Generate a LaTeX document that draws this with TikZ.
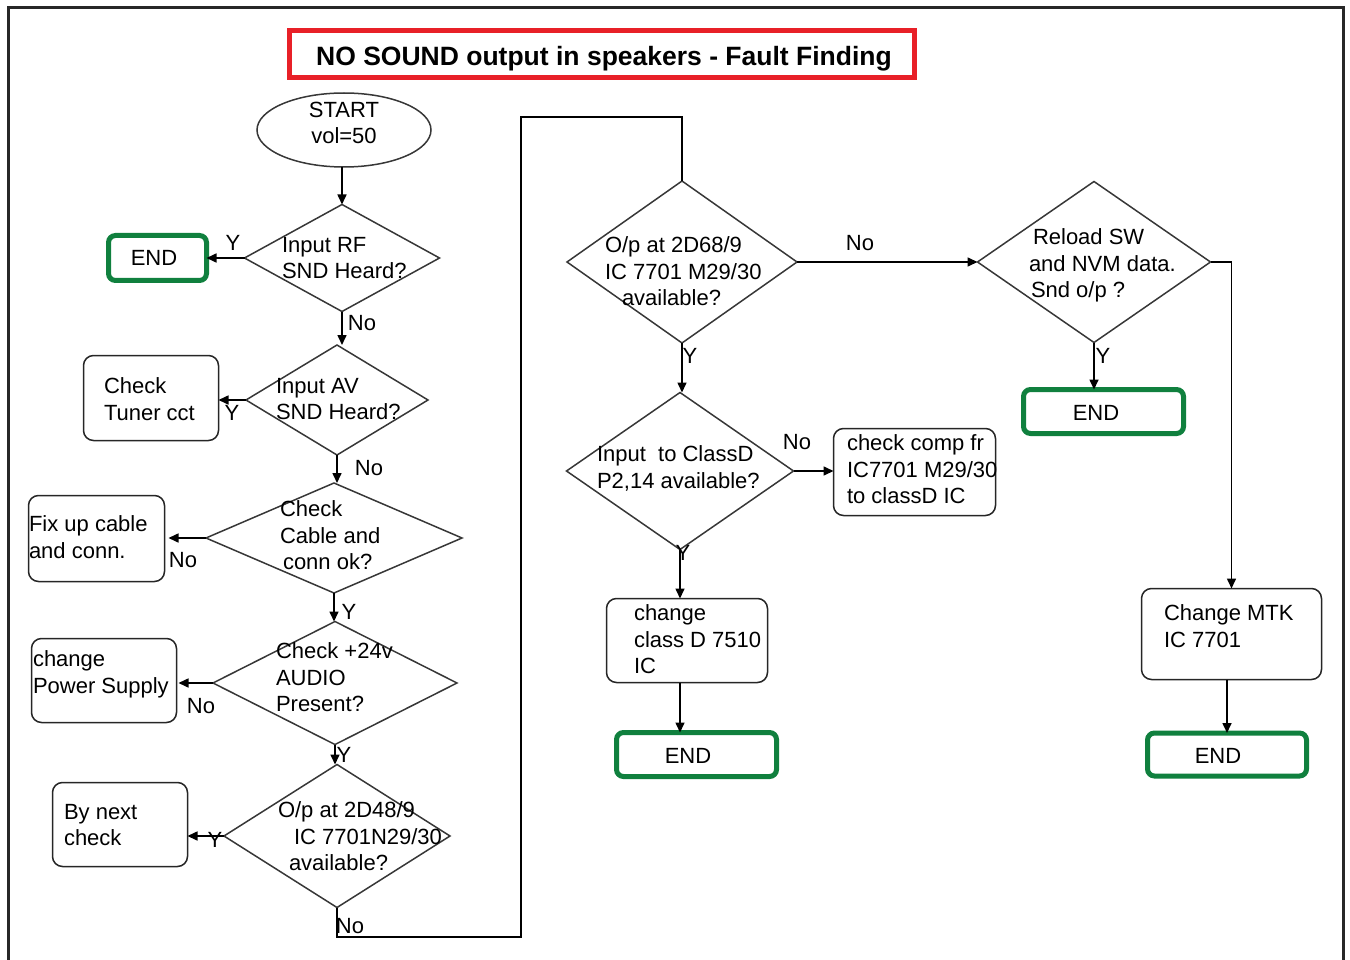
\documentclass[tikz,border=0pt]{standalone}
\usepackage{fontspec}
\setmainfont{Liberation Sans}
\usetikzlibrary{shapes.geometric,arrows.meta}
\definecolor{endgreen}{RGB}{16,128,62}
\definecolor{titlered}{RGB}{232,32,40}
\definecolor{shapegray}{RGB}{55,55,55}
\definecolor{framegray}{RGB}{40,40,40}
\begin{document}
\begin{tikzpicture}[x=1pt,y=-1pt,
  every node/.style={font=\fontsize{22}{26.5}\selectfont, inner sep=0pt, outer sep=0pt},
  dia/.style={diamond, draw=shapegray, line width=1.5pt},
  rbox/.style={draw=black!85, line width=1.5pt, rounded corners=10pt},
  endbox/.style={draw=endgreen, line width=5pt, rounded corners=7pt},
  txt/.style={align=left, anchor=north west},
  arr/.style={-{Triangle[length=10pt,width=9pt]}, line width=1.6pt},
  conn/.style={line width=1.6pt}
]
\useasboundingbox (0,0) rectangle (1350,960);
% frame
\draw[framegray, line width=3pt] (8,962) -- (8,8) -- (1343,8) -- (1343,962);
% title
\node[draw=titlered, line width=5pt, minimum width=625pt, minimum height=47pt] (titlebox) at (602,54) {};
\node[font=\fontsize{26.5}{30}\selectfont\bfseries] (title) at (604,58.5) {NO SOUND output in speakers - Fault Finding};

% start
\node[ellipse, draw=shapegray, line width=1.5pt, minimum width=174pt, minimum height=74pt] (start) at (344,130) {};
\node[align=center] (startt) at (344,123) {START\\vol=50};

% left column diamonds
\node[dia, minimum width=195pt, minimum height=107pt] (d1) at (342,258) {};
\node[txt] (d1t) at (282,237) {Input RF\\SND Heard?};
\node[dia, minimum width=182pt, minimum height=110pt] (d2) at (337,400) {};
\node[txt] (d2t) at (276,378) {Input AV\\SND Heard?};
\node[dia, minimum width=256pt, minimum height=110pt] (d3) at (334,538) {};
\node[txt] (d3t) at (280,501) {Check\\Cable and\\\hspace*{3pt}conn ok?};
\node[dia, minimum width=244pt, minimum height=123pt] (d4) at (335,683) {};
\node[txt] (d4t) at (276,643) {Check +24v\\AUDIO\\Present?};
\node[dia, minimum width=226pt, minimum height=143pt] (d5) at (337,836) {};
\node[txt] (d5t) at (278,802) {O/p at 2D48/9\\\hspace*{16pt}IC 7701N29/30\\\hspace*{11pt}available?};

% left column boxes
\node[endbox, minimum width=98pt, minimum height=45pt] (end1) at (157.5,258) {};
\node (end1t) at (154,258) {END};
\node[rbox, minimum width=135pt, minimum height=85pt] (tuner) at (151,398) {};
\node[txt] (tunert) at (104,378) {Check\\Tuner cct};
\node[rbox, minimum width=136pt, minimum height=86pt] (fix) at (96.5,538.5) {};
\node[txt] (fixt) at (29,516) {Fix up cable\\and conn.};
\node[rbox, minimum width=145pt, minimum height=84pt] (power) at (104,680.5) {};
\node[txt] (powert) at (33,651) {change\\Power Supply};
\node[rbox, minimum width=135pt, minimum height=84pt] (next) at (120,824.5) {};
\node[txt] (nextt) at (64,804) {By next\\check};

% right part
\node[dia, minimum width=230pt, minimum height=162pt] (d6) at (682,262) {};
\node[txt] (d6t) at (605,237) {O/p at 2D68/9\\IC 7701 M29/30\\\hspace*{17pt}available?};
\node[dia, minimum width=233pt, minimum height=161pt] (d7) at (1094,262) {};
\node[txt] (d7t) at (1029,229) {\hspace*{4pt}Reload SW\\and NVM data.\\\hspace*{2pt}Snd o/p ?};
\node[dia, minimum width=227pt, minimum height=157pt] (d8) at (680,471) {};
\node[txt] (d8t) at (597,446) {Input\ \ to ClassD\\P2,14 available?};

\node[endbox, minimum width=160pt, minimum height=44pt] (end2) at (1103.5,411.5) {};
\node (end2t) at (1096,413) {END};
\node[rbox, minimum width=162pt, minimum height=87pt] (comp) at (914.5,472) {};
\node[txt] (compt) at (847,435) {check comp fr\\IC7701 M29/30\\to classD IC};
\node[rbox, minimum width=161pt, minimum height=84pt] (classd) at (687,640.5) {};
\node[txt] (classdt) at (634,605) {change\\class D 7510\\IC};
\node[endbox, minimum width=160pt, minimum height=44pt] (end3) at (696.5,754.5) {};
\node (end3t) at (688,756) {END};
\node[rbox, minimum width=180pt, minimum height=91pt] (mtk) at (1231.5,634) {};
\node[txt] (mtkt) at (1164,605) {Change MTK\\IC 7701};
\node[endbox, minimum width=159pt, minimum height=43pt] (end4) at (1227,754.5) {};
\node (end4t) at (1218,756) {END};

% route coordinates
\coordinate (c1) at (521,937);
\coordinate (c2) at (521,117);

% connectors
\draw[arr] (start.south -| d1.north) -- (d1.north);
\draw[arr] (d1.west) -- (d1.west -| end1.east);
\draw[arr] (d1.south) -- (d1.south |- d2.north);
\draw[arr] (d2.west) -- (d2.west -| tuner.east);
\draw[arr] (d2.south) -- (d2.south |- d3.north);
\draw[arr] (d3.west) -- ([xshift=4pt]d3.west -| fix.east);
\draw[arr] (d3.south) -- (d3.south |- d4.north);
\draw[arr] (d4.west) -- ([xshift=2pt]d4.west -| power.east);
\draw[arr] (d4.south) -- (d4.south |- d5.north);
\draw[arr] (d5.west) -- (d5.west -| next.east);
\draw[conn] (d5.south) |- (c1) -- (c2) -| (d6.north);
\draw[arr] (d6.east) -- (d6.east -| d7.west);
\draw[arr] (d6.south) -- (d6.south |- d8.north);
\draw[arr] (d7.south) -- (end2.north -| d7.south);
\draw[arr] (d7.east) -| (mtk.north);
\draw[arr] (d8.east) -- (d8.east -| comp.west);
\draw[arr] (d8.south) -- (d8.south |- classd.north);
\draw[arr] (d8.south |- classd.south) -- (d8.south |- end3.north);
\draw[arr] (end4.north |- mtk.south) -- (end4.north);

% labels
\node (y1) at (233,243) {Y};
\node (no1) at (362,323) {No};
\node (y2) at (232,413) {Y};
\node (no2) at (369,468) {No};
\node (no3) at (183,560) {No};
\node (y3) at (349,612) {Y};
\node (no4) at (201,706) {No};
\node (y4) at (344,755) {Y};
\node (y5) at (215,840) {Y};
\node (no5) at (350,926) {No};
\node (y6) at (690,356) {Y};
\node (no6) at (860,243) {No};
\node (y7) at (1103,356) {Y};
\node (no7) at (797,442) {No};
\node (y8) at (683,553) {Y};
\end{tikzpicture}
\end{document}
